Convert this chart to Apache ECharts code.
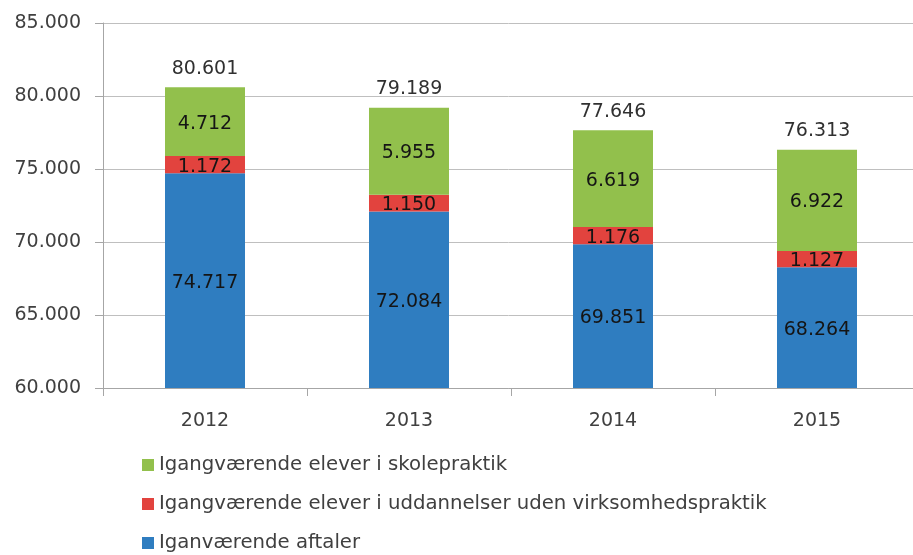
<!DOCTYPE html>
<html>
<head>
<meta charset="utf-8">
<script src="https://cdn.jsdelivr.net/npm/echarts@6/dist/echarts.min.js"></script>
<style>
html,body{margin:0;padding:0;background:#fff;}
#chart{width:913px;height:555px;}
</style>
</head>
<body>
<div id="chart"></div>
<script>
var categories = ['2012', '2013', '2014', '2015'];
var aftaler = [74717, 72084, 69851, 68264];
var udenVirksomhed = [1172, 1150, 1176, 1127];
var skolepraktik = [4712, 5955, 6619, 6922];
var totals = [80601, 79189, 77646, 76313];
var seriesNames = [
  'Iganværende aftaler',
  'Igangværende elever i uddannelser uden virksomhedspraktik',
  'Igangværende elever i skolepraktik'
];
var yTicks = { min: 60000, max: 85000, interval: 5000 };

function fmt(v) {
  return String(v).replace(/\B(?=(\d{3})+(?!\d))/g, '.');
}

var font = 'DejaVu Sans';
var innerLabel = {
  show: true,
  position: 'inside',
  offset: [0, 2],
  fontFamily: font,
  fontSize: 19,
  color: '#151515',
  formatter: function (p) { return fmt(p.value); }
};

var chart = echarts.init(document.getElementById('chart'), null, { renderer: 'canvas' });
chart.setOption({
  animation: false,
  backgroundColor: '#ffffff',
  grid: { left: 103, top: 23, width: 816, height: 365, containLabel: false, outerBoundsMode: 'none' },
  legend: {
    orient: 'vertical',
    left: 142,
    top: 454,
    padding: 0,
    itemWidth: 12,
    itemHeight: 12,
    itemGap: 17,
    icon: 'rect',
    data: [seriesNames[2], seriesNames[1], seriesNames[0]],
    textStyle: { fontFamily: font, fontSize: 19.7, color: '#404040', lineHeight: 22 }
  },
  xAxis: {
    type: 'category',
    data: categories,
    boundaryGap: true,
    axisLine: { lineStyle: { color: '#a6a6a6', width: 1 } },
    axisTick: { show: true, alignWithLabel: false, length: 8, lineStyle: { color: '#a6a6a6' } },
    axisLabel: { margin: 24, fontFamily: font, fontSize: 19, color: '#404040' }
  },
  yAxis: {
    type: 'value',
    min: yTicks.min,
    max: yTicks.max,
    interval: yTicks.interval,
    axisLine: { show: true, lineStyle: { color: '#a6a6a6', width: 1 } },
    axisTick: { show: true, length: 8, lineStyle: { color: '#a6a6a6' } },
    splitLine: { show: true, lineStyle: { color: '#bfbfbf', width: 1 } },
    axisLabel: {
      margin: 22,
      fontFamily: font,
      fontSize: 19,
      color: '#404040',
      formatter: function (v) { return fmt(v); }
    }
  },
  series: [
    {
      name: seriesNames[0], type: 'bar', stack: 'total', barWidth: 80,
      itemStyle: { color: '#2f7dc0' },
      label: innerLabel,
      data: aftaler
    },
    {
      name: seriesNames[1], type: 'bar', stack: 'total', barWidth: 80,
      itemStyle: { color: '#e2433e' },
      label: innerLabel,
      data: udenVirksomhed
    },
    {
      name: seriesNames[2], type: 'bar', stack: 'total', barWidth: 80,
      itemStyle: { color: '#92c04c' },
      label: innerLabel,
      data: skolepraktik
    },
    {
      name: 'Total', type: 'line', data: totals,
      symbol: 'circle', symbolSize: 2, showSymbol: true,
      itemStyle: { color: 'rgba(0,0,0,0)', borderWidth: 0 },
      lineStyle: { width: 0, color: 'rgba(0,0,0,0)' }, silent: true,
      label: {
        show: true, position: 'top', distance: 8,
        fontFamily: font, fontSize: 19, color: '#303030',
        formatter: function (p) { return fmt(p.value); }
      },
      z: 5
    }
  ]
});
</script>
</body>
</html>
